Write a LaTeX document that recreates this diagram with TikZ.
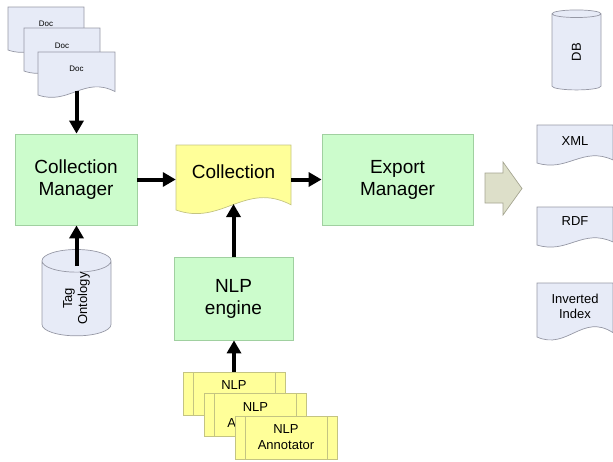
\documentclass[tikz,border=0pt]{standalone}
\usepackage{fontspec}
\setmainfont{Liberation Sans}
\usetikzlibrary{arrows.meta,shapes.geometric}

\definecolor{mgrfill}{RGB}{204,252,204}
\definecolor{mgrline}{RGB}{160,208,160}
\definecolor{colfill}{RGB}{255,255,153}
\definecolor{colline}{RGB}{196,196,130}
\definecolor{docfill}{RGB}{231,235,247}
\definecolor{docline}{RGB}{150,152,165}
\definecolor{expfill}{RGB}{221,223,201}
\definecolor{expline}{RGB}{165,165,145}

% document with a wavy foot: style, x, y (top left), width, height
\newcommand{\docshape}[5]{%
  \draw[#1] (#2,#3) -- ({#2+#4},#3) -- ({#2+#4},{#3+0.92*#5})
    .. controls ({#2+0.6*#4},{#3+0.55*#5}) and ({#2+0.4*#4},{#3+1.25*#5})
    .. (#2,{#3+#5}) -- cycle;}

\begin{document}
\begin{tikzpicture}[
x=1pt, y=-1pt,
every node/.style={
align=center,
inner sep=0pt
},
manager/.style={draw=mgrline, fill=mgrfill, line width=0.8pt,
  minimum height=91pt, font=\fontsize{19}{22}\selectfont},
paper/.style={draw=docline, fill=docfill, line width=0.7pt},
colpaper/.style={draw=colline, fill=colfill, line width=0.7pt},
store/.style={cylinder, rotate=90, aspect=0.85, draw=docline,
  fill=docfill, line width=0.7pt, font=\fontsize{13}{15}\selectfont},
annot/.style={draw=colline, fill=colfill, line width=0.7pt,
  minimum width=102pt, minimum height=43pt,
  font=\fontsize{13}{16}\selectfont,
  path picture={
    \draw[colline, line width=0.7pt]
      ([xshift=10pt]path picture bounding box.north west) --
      ([xshift=10pt]path picture bounding box.south west)
      ([xshift=-10pt]path picture bounding box.north east) --
      ([xshift=-10pt]path picture bounding box.south east);
  }},
flow/.style={-{Triangle[length=13pt,width=14pt]}, line width=4pt}
]

\clip (0,0) rectangle (613,461);

% input documents
\docshape{paper}{8}{7}{76}{43}
\node[font=\fontsize{8}{10}\selectfont] (doc1) at (46,24) {Doc};
\docshape{paper}{24}{28}{76}{43}
\node[font=\fontsize{8}{10}\selectfont] (doc2) at (62,46) {Doc};
\docshape{paper}{38}{52}{77}{43}
\node[font=\fontsize{8}{10}\selectfont] (doc3) at (76.5,69) {Doc};
\coordinate (doc3foot) at (76.5,91);

% managers and engine
\node[manager, minimum width=122pt] (cm)
at (76,179.5)
{Collection\\Manager};

\node[manager, minimum width=151pt] (em)
at (397.5,179.5)
{Export\\Manager};

\node[manager, minimum width=119pt, minimum height=83pt] (nlp)
at (233.5,298.5)
{NLP\\engine};

% the collection
\docshape{colpaper}{176}{145}{115}{65}
\node[font=\fontsize{19}{22}\selectfont, minimum width=115pt] (coll)
at (233.5,172)
{Collection};
\coordinate (collfoot) at (233.5,204);

% stores
\node[store, minimum width=69pt, minimum height=83pt] (tag)
at (76.5,298.5)
{Tag\\Ontology};
\coordinate (tagtop) at (76.5,266);

\node[store, minimum width=49pt, minimum height=80pt] (db)
at (576.5,52)
{DB};

% annotators
\node[annot] (ann1) at (234,393.5) {NLP\\Annotator};
\node[annot] (ann2) at (255.5,415) {NLP\\Annotator};
\node[annot] (ann3) at (286,437.5) {NLP\\Annotator};

% export formats
\docshape{paper}{537}{125}{76}{38}
\node[font=\fontsize{13}{15}\selectfont] (xml) at (575,141) {XML};
\docshape{paper}{537}{207}{76}{38}
\node[font=\fontsize{13}{15}\selectfont] (rdf) at (575,221) {RDF};
\docshape{paper}{537}{283}{76}{54}
\node[font=\fontsize{13}{15}\selectfont] (inv) at (575,306) {Inverted\\Index};

% block arrow towards the formats
\draw[draw=expline, fill=expfill, line width=0.7pt]
  (485,173) -- (503,173) -- (503,162) -- (522,188.5)
  -- (503,215) -- (503,203) -- (485,203) -- cycle;

% flows
\draw[flow] (doc3foot) -- (doc3foot |- cm.north);
\draw[flow] (tagtop) -- (tagtop |- cm.south);
\draw[flow] (cm.east) -- (cm.east -| coll.west);
\draw[flow] (coll.east |- em.west) -- (em.west);
\draw[flow] (nlp.north) -- (collfoot);
\draw[flow] (ann1.north) -- (ann1.north |- nlp.south);

\end{tikzpicture}
\end{document}
